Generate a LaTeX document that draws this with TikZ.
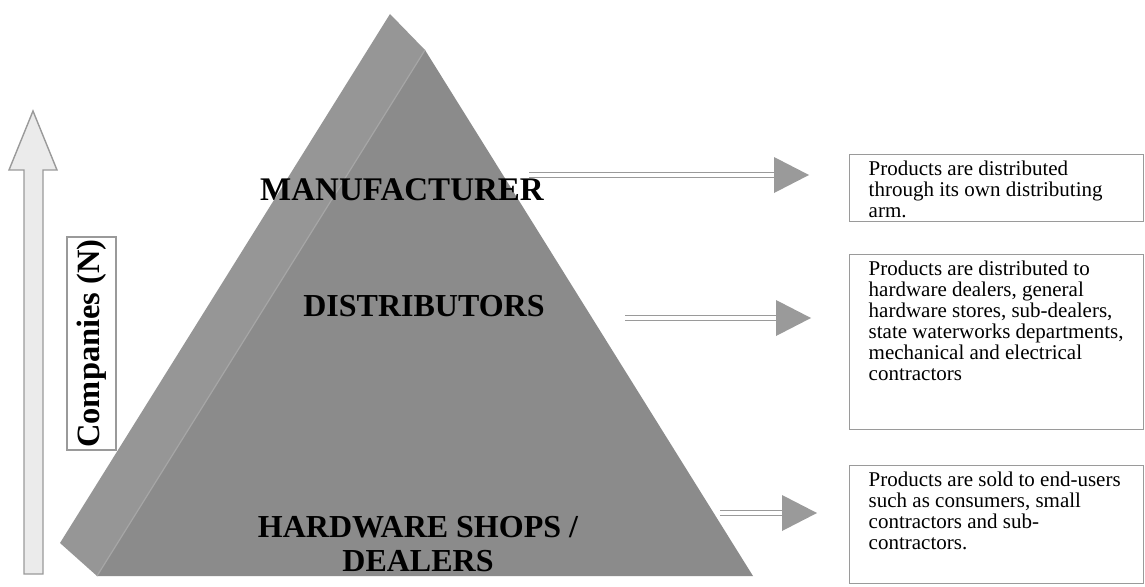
\documentclass[tikz,border=0pt]{standalone}
\usepackage{fontspec}
\setmainfont{Liberation Serif}
\usepackage{xcolor}
\usepackage{tikz}
\usetikzlibrary{positioning,calc}

\definecolor{sidegray}{HTML}{969696}
\definecolor{frontgray}{HTML}{8B8B8B}
\definecolor{ridgegray}{HTML}{A6A6A6}
\definecolor{linegray}{HTML}{9A9A9A}
\definecolor{arrowfill}{HTML}{EBEBEB}

\begin{document}
\begin{tikzpicture}[
    x=1pt, y=-1pt,
    level/.style={font=\fontsize{32}{34}\selectfont\bfseries, align=center, inner sep=0pt},
    descbox/.style={rectangle, draw=linegray, line width=1.4pt, anchor=north west, inner xsep=19pt, inner ysep=6pt, font=\fontsize{21}{21}\selectfont},
    twoline/.style={draw=linegray, double=white, double distance=3.3pt, line width=1.7pt},
    axisbox/.style={draw=linegray, line width=1.4pt, rotate=90, font=\fontsize{32.5}{34}\selectfont\bfseries, inner sep=0pt}
]

\useasboundingbox (0,0) rectangle (1145,586);

% Pyramid
\coordinate (sidetop) at (390,14);
\coordinate (top) at (425,50);
\coordinate (baseleft) at (97,576);
\coordinate (baseright) at (753,576);
\coordinate (sideleft) at (60,543);
\fill[sidegray] (sidetop) -- (top) -- (baseleft) -- (sideleft) -- cycle;
\fill[frontgray] (top) -- (baseright) -- (baseleft) -- cycle;
\draw[ridgegray, line width=1.2pt] (top) -- (baseleft);

% Levels
\node[level, font=\fontsize{33}{34}\selectfont\bfseries] (manu) at (402,190) {MANUFACTURER};
\node[level] (dist) at (424,306) {DISTRIBUTORS};
\node[level] (shops) at (418,544) {HARDWARE SHOPS /\\DEALERS};

% Number of companies
\draw[draw=linegray, fill=arrowfill, line width=1.4pt] (33,111) -- (57,170) -- (43,170) -- (43,574) -- (24,574) -- (24,170) -- (9,170) -- cycle;
\node[axisbox, minimum width=213pt, minimum height=49pt] (axis) at (91.5,343.5) {Companies (N)};

% Descriptions
\node[descbox] (ownarm) at (849,154) {\parbox[c][55pt][t]{256pt}{\begin{tabular}[t]{@{}l@{}}
  Products are distributed\\
  through its own distributing\\
  arm.
\end{tabular}}};
\node[descbox] (dealers) at (849,254) {\parbox[c][163pt][t]{256pt}{\begin{tabular}[t]{@{}l@{}}
  Products are distributed to\\
  hardware dealers, general\\
  hardware stores, sub-dealers,\\
  state waterworks departments,\\
  mechanical and electrical\\
  contractors
\end{tabular}}};
\node[descbox] (endusers) at (849,465) {\parbox[c][106pt][t]{256pt}{\begin{tabular}[t]{@{}l@{}}
  Products are sold to end-users\\
  such as consumers, small\\
  contractors and sub-\\
  contractors.
\end{tabular}}};

% Connectors
\coordinate (manu from) at (529,175);
\coordinate (manu to) at (774,175);
\draw[twoline] (manu from) -- (manu to);
\fill[linegray] (manu to) ++(0,-18) -- ++(35,18) -- ++(-35,18) -- cycle;

\coordinate (dist from) at (625,318);
\coordinate (dist to) at (776,318);
\draw[twoline] (dist from) -- (dist to);
\fill[linegray] (dist to) ++(0,-18) -- ++(35,18) -- ++(-35,18) -- cycle;

\coordinate (shops from) at (720,513);
\coordinate (shops to) at (782,513);
\draw[twoline] (shops from) -- (shops to);
\fill[linegray] (shops to) ++(0,-18) -- ++(35,18) -- ++(-35,18) -- cycle;

\end{tikzpicture}
\end{document}
